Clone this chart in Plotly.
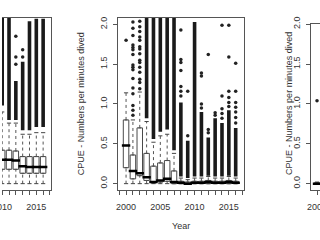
import plotly.graph_objects as go

# ---------------- data ----------------
years_left = [2010, 2011, 2012, 2013, 2014, 2015, 2016]
left_q1 = [0.18, 0.18, 0.18, 0.13, 0.13, 0.13, 0.13]
left_med = [0.30, 0.30, 0.29, 0.22, 0.21, 0.21, 0.21]
left_q3 = [0.42, 0.42, 0.41, 0.34, 0.34, 0.34, 0.34]
left_lo = [0.0, 0.0, 0.0, 0.0, 0.0, 0.0, 0.0]
left_hi = [0.90, 0.76, 0.76, 0.62, 0.62, 0.64, 0.64]
left_dense_lo = [0.98, 0.80, 0.80, 0.67, 0.67, 0.71, 0.71]
left_dense_hi = [2.10, 2.10, 1.29, 1.53, 2.04, 2.07, 2.07]
left_sparse = [[], [], [1.50, 1.59, 1.85], [1.59, 1.68], [], [], []]

years_mid = [2000, 2001, 2002, 2003, 2004, 2005, 2006, 2007, 2008,
             2009, 2010, 2011, 2012, 2013, 2014, 2015, 2016]
mid_q1 = [0.20, 0.06, 0.10, 0.04, 0.01, 0.02, 0.03, 0.00, 0.00,
          0.00, 0.00, 0.00, 0.00, 0.00, 0.00, 0.00, 0.00]
mid_med = [0.48, 0.16, 0.13, 0.08, 0.02, 0.04, 0.06, 0.02, 0.01,
           0.00, 0.01, 0.01, 0.02, 0.01, 0.01, 0.02, 0.01]
mid_q3 = [0.80, 0.36, 0.70, 0.38, 0.22, 0.26, 0.29, 0.16, 0.03,
          0.02, 0.03, 0.03, 0.04, 0.03, 0.03, 0.04, 0.03]
mid_lo = [0.0] * 17
mid_hi = [1.14, 0.80, 1.15, 0.78, 0.52, 0.60, 0.62, 0.38, 0.07,
          0.05, 0.07, 0.07, 0.09, 0.07, 0.07, 0.09, 0.07]
mid_dense_lo = [None, None, None, 0.82, 0.56, 0.65, 0.68, 0.42, 0.09,
                0.07, 0.09, 0.09, 0.10, 0.09, 0.09, 0.10, 0.09]
mid_dense_hi = [None, None, None, 2.10, 2.10, 2.10, 2.10, 2.10, 1.02,
                0.54, 2.03, 0.90, 0.58, 0.82, 0.76, 0.92, 0.70]
mid_sparse = [
    [1.80],
    [0.86, 0.92, 0.98, 1.13, 1.20, 1.32, 1.43, 1.46, 1.49, 1.62, 1.68,
     1.71, 1.74, 1.86, 1.95, 2.03],
    [1.19, 1.27, 1.31, 1.40, 1.46, 1.52, 1.55, 1.63, 1.69, 1.72, 1.80,
     1.84, 1.91, 1.97, 2.04],
    [], [], [], [], [],
    [1.10, 1.16, 1.22, 1.42, 1.52, 1.56, 1.93],
    [0.60, 1.16],
    [],
    [0.95, 1.00, 1.35, 1.39],
    [0.64, 0.68, 1.62],
    [0.86, 0.89],
    [0.82, 0.88, 0.94, 1.10, 1.99],
    [0.97, 1.02, 1.08, 1.16, 1.59, 1.99],
    [0.76, 0.83, 0.90, 0.96, 1.02, 1.16, 1.51],
]

years_right = [2000]
right_q1 = [0.0]
right_med = [0.0]
right_q3 = [0.01]
right_lo = [0.0]
right_hi = [0.02]
right_dense_lo = [None]
right_dense_hi = [None]
right_sparse = [[1.04]]

x_tick_years = list(range(1998, 2018))
x_labelled = {2000: "2000", 2005: "2005", 2010: "2010", 2015: "2015"}
y_ticks = [0.0, 0.5, 1.0, 1.5, 2.0]
y_tick_labels = ["0.0", "0.5", "1.0", "1.5", "2.0"]
y_title = "CPUE - Numbers per minutes dived"
x_title = "Year"

# ---------------- figure ----------------
W, H = 320, 240
FONT = "Liberation Sans, Arial, sans-serif"
TXT = "#333333"
FRAME = "#555555"
BOXW = 0.8

fig = go.Figure()


def add_panel(xa, ya, years, q1, med, q3, lo, hi, dlo, dhi, sparse):
    # dashed whiskers
    wx, wy = [], []
    for i, yr in enumerate(years):
        wx += [yr, yr, None, yr, yr, None]
        wy += [q3[i], hi[i], None, lo[i], q1[i], None]
    fig.add_trace(go.Scatter(x=wx, y=wy, mode="lines", xaxis=xa, yaxis=ya,
                             line=dict(color="#555555", width=1, dash="dot"),
                             hoverinfo="skip", showlegend=False))
    # staples
    fig.add_trace(go.Scatter(x=years + years, y=hi + lo, mode="markers",
                             xaxis=xa, yaxis=ya,
                             marker=dict(symbol="line-ew", size=3,
                                         line=dict(color="#444444", width=1)),
                             hoverinfo="skip", showlegend=False))
    # boxes
    fig.add_trace(go.Box(x=years, q1=q1, median=med, q3=q3,
                         lowerfence=q1, upperfence=q3, width=BOXW,
                         xaxis=xa, yaxis=ya, boxpoints=False,
                         fillcolor="white",
                         line=dict(color="#4a4a4a", width=1),
                         hoverinfo="skip", showlegend=False))
    # thick medians
    fig.add_trace(go.Scatter(x=years, y=med, mode="markers", xaxis=xa, yaxis=ya,
                             marker=dict(symbol="line-ew", size=6,
                                         line=dict(color="#000000", width=2.5)),
                             hoverinfo="skip", showlegend=False))
    # dense outlier columns
    dx, dy = [], []
    for i, yr in enumerate(years):
        if dlo[i] is not None:
            dx += [yr, yr, None]
            dy += [dlo[i], dhi[i], None]
    if dx:
        fig.add_trace(go.Scatter(x=dx, y=dy, mode="lines", xaxis=xa, yaxis=ya,
                                 line=dict(color="#1a1a1a", width=3.6),
                                 hoverinfo="skip", showlegend=False))
    # individual outliers
    sx, sy = [], []
    for i, yr in enumerate(years):
        for v in sparse[i]:
            sx.append(yr)
            sy.append(v)
    fig.add_trace(go.Scatter(x=sx, y=sy, mode="markers", xaxis=xa, yaxis=ya,
                             marker=dict(symbol="circle", size=3.5,
                                         color="#222222"),
                             hoverinfo="skip", showlegend=False))


add_panel("x", "y", years_left, left_q1, left_med, left_q3, left_lo, left_hi,
          left_dense_lo, left_dense_hi, left_sparse)
add_panel("x2", "y2", years_mid, mid_q1, mid_med, mid_q3, mid_lo, mid_hi,
          mid_dense_lo, mid_dense_hi, mid_sparse)
add_panel("x3", "y3", years_right, right_q1, right_med, right_q3, right_lo,
          right_hi, right_dense_lo, right_dense_hi, right_sparse)

# geometry (pixels)
PXU = 126.6 / 18.36           # pixels per year
mid_l, mid_r = 116.7, 243.3
left_r = 49.5
right_l = 310.7
top_px, bot_px = 10.3, 188.3
right_top_px = 16.7
xlab_px = 205.5


def px_x(p):
    return p / W


def px_y(p):
    return 1 - p / H


ticktext_full = [x_labelled.get(y, "") for y in x_tick_years]
xcommon = dict(tickmode="array", tickvals=x_tick_years,
               ticks="outside", ticklen=4, tickcolor=FRAME, tickwidth=1,
               showgrid=False, zeroline=False, showline=True,
               linecolor=FRAME, linewidth=1, mirror=True,
               ticklabelstandoff=4,
               tickfont=dict(family=FONT, size=9, color=TXT))
ycommon = dict(tickmode="array", tickvals=y_ticks, ticktext=y_tick_labels,
               ticks="outside", ticklen=4, tickcolor=FRAME, tickwidth=1,
               tickangle=-90, showgrid=False, zeroline=False, showline=True,
               linecolor=FRAME, linewidth=1, ticklabelstandoff=2,
               tickfont=dict(family=FONT, size=9, color=TXT))

left_range = [2017.18 - left_r / PXU - 0.03, 2017.18]
right_start = 2000 - (317.0 - right_l) / PXU
right_range = [right_start, right_start + (W - right_l) / PXU]

# labels that sit on the edge of the window are drawn as axis-anchored text
left_edge_label = [y for y in x_labelled if left_range[0] - 0.5 < y < left_range[0] + 0.5]
right_edge_label = [y for y in x_labelled if right_range[1] - 1.5 < y < right_range[1] + 0.5]
ticktext_left = [x_labelled.get(y, "") if y not in left_edge_label else ""
                 for y in x_tick_years]
ticktext_right = [x_labelled.get(y, "") if y not in right_edge_label else ""
                  for y in x_tick_years]

fig.update_layout(
    width=W, height=H, margin=dict(l=0, r=0, t=0, b=0),
    paper_bgcolor="white", plot_bgcolor="white", showlegend=False,
    font=dict(family=FONT, size=9, color=TXT),
    xaxis=dict(xcommon, ticktext=ticktext_left, domain=[0, px_x(left_r)],
               range=left_range, anchor="y"),
    yaxis=dict(ycommon, domain=[px_y(bot_px), px_y(top_px)], range=[-0.08, 2.08],
               anchor="x", side="right", mirror=False, showticklabels=False,
               ticks=""),
    xaxis2=dict(xcommon, ticktext=ticktext_full, domain=[px_x(mid_l), px_x(mid_r)],
                range=[1998.82, 2017.18], anchor="y2"),
    yaxis2=dict(ycommon, domain=[px_y(bot_px), px_y(top_px)], range=[-0.08, 2.08],
                anchor="x2", mirror=True),
    xaxis3=dict(xcommon, ticktext=ticktext_right, domain=[px_x(right_l), 1],
                range=right_range, anchor="y3"),
    yaxis3=dict(ycommon, domain=[px_y(bot_px), px_y(right_top_px)],
                range=[-0.08, 2.0], anchor="x3", mirror=False),
)

annos = [
    dict(text=y_title, xref="paper", x=px_x(79), y=px_y(99), textangle=-90),
    dict(text=y_title, xref="paper", x=px_x(289), y=px_y(99), textangle=-90),
    dict(text=x_title, xref="paper", x=px_x(180), y=px_y(225), textangle=0),
]
for yr in left_edge_label:
    annos.append(dict(text=x_labelled[yr], xref="x", x=yr, y=px_y(xlab_px),
                      textangle=0))
for yr in right_edge_label:
    annos.append(dict(text=x_labelled[yr], xref="x3", x=yr, y=px_y(xlab_px),
                      textangle=0))
for a in annos:
    fig.add_annotation(yref="paper", showarrow=False,
                       xanchor="center", yanchor="middle",
                       font=dict(family=FONT, size=9, color=TXT), **a)

fig.write_html("out.html")
